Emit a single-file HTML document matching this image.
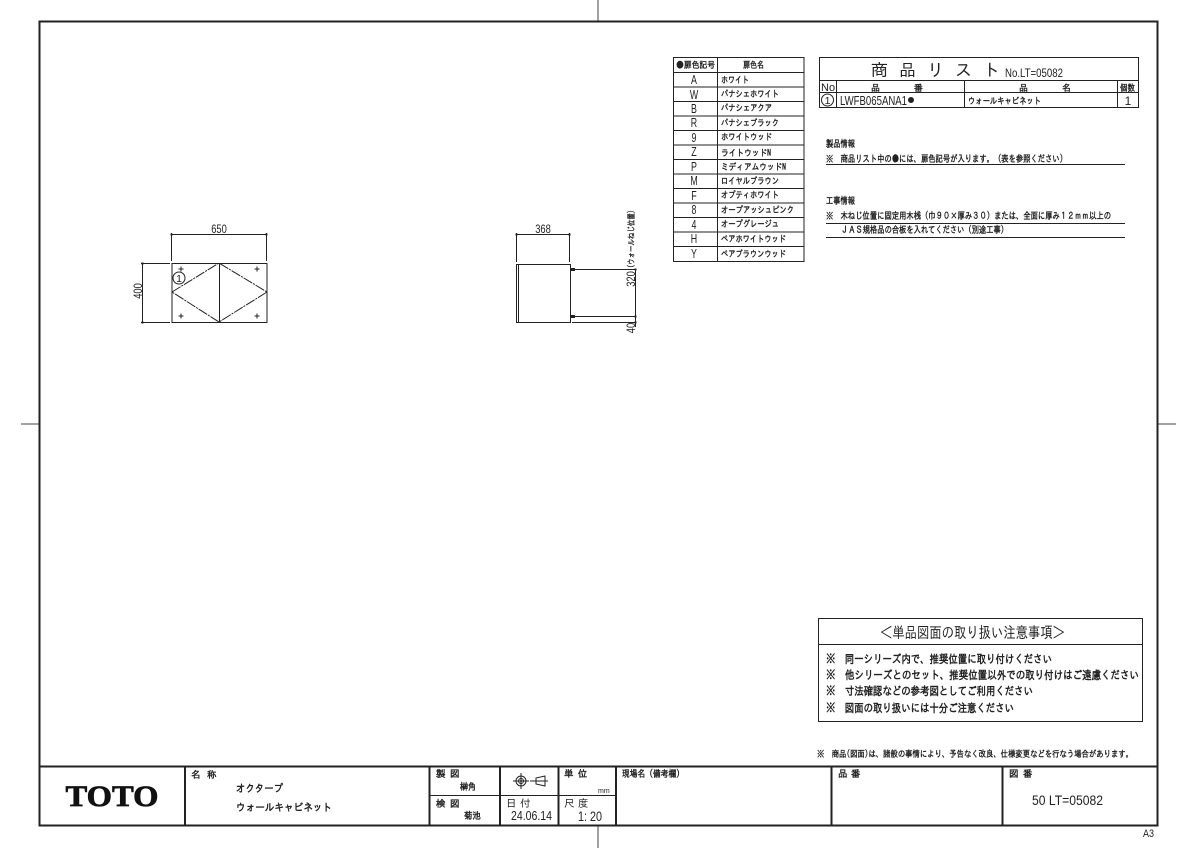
<!DOCTYPE html>
<html lang="ja"><head><meta charset="utf-8"><title>LT=05082</title>
<style>
html,body{margin:0;padding:0;background:#fff}
svg{display:block}
text{font-family:"Liberation Sans","IPAGothic","Noto Sans CJK JP",sans-serif;fill:#222}
.j{font-family:"IPAGothic","Noto Sans CJK JP",sans-serif;font-weight:bold}
.n{font-family:"IPAGothic","Noto Sans CJK JP",sans-serif;font-weight:normal}
.l{stroke:#222;stroke-width:1;fill:none}
.t{stroke:#222;stroke-width:2;fill:none}
.g{stroke:#444;stroke-width:1;fill:none}
</style></head><body>
<svg width="1200" height="848" viewBox="0 0 1200 848" xmlns="http://www.w3.org/2000/svg">
<!-- sheet -->
<path class="g" d="M598 0V21M598 826V848M21 424H39M1158 424H1176"/>
<rect class="t" x="39.500" y="21.500" width="1118" height="804"/>
<path class="t" d="M39 766.500H1158M185 766V825M429.500 766V825M500 766V825M558.500 766V825M616 766V825M831.500 766V825M1002.500 766V825"/>
<path class="l" d="M429 795.500H616"/>

<!-- color table -->
<rect class="l" x="673.500" y="57.500" width="130.500" height="204"/>
<path class="l" d="M717.500 57V261M673 72.500H804M673 87H804M673 101.500H804M673 116H804M673 130.500H804M673 145H804M673 159.500H804M673 174H804M673 188.500H804M673 203H804M673 217.500H804M673 232H804M673 246.500H804"/>
<g font-size="9">
<text x="676" y="68" class="j" textLength="39" lengthAdjust="spacingAndGlyphs">●扉色記号</text>
<text x="743" y="68" class="j" textLength="21" lengthAdjust="spacingAndGlyphs">扉色名</text>
<text x="721" y="83" class="j" textLength="28" lengthAdjust="spacingAndGlyphs">ホワイト</text>
<text x="721" y="97" class="j" textLength="58" lengthAdjust="spacingAndGlyphs">パナシェホワイト</text>
<text x="721" y="111" class="j" textLength="51" lengthAdjust="spacingAndGlyphs">パナシェアクア</text>
<text x="721" y="126" class="j" textLength="58" lengthAdjust="spacingAndGlyphs">パナシェブラック</text>
<text x="721" y="140" class="j" textLength="51" lengthAdjust="spacingAndGlyphs">ホワイトウッド</text>
<text x="721" y="156" class="j" textLength="50" lengthAdjust="spacingAndGlyphs">ライトウッドN</text>
<text x="721" y="170" class="j" textLength="65" lengthAdjust="spacingAndGlyphs">ミディアムウッドN</text>
<text x="721" y="184" class="j" textLength="58" lengthAdjust="spacingAndGlyphs">ロイヤルブラウン</text>
<text x="721" y="198" class="j" textLength="58" lengthAdjust="spacingAndGlyphs">オプティホワイト</text>
<text x="721" y="213" class="j" textLength="73" lengthAdjust="spacingAndGlyphs">オープアッシュピンク</text>
<text x="721" y="227" class="j" textLength="58" lengthAdjust="spacingAndGlyphs">オープグレージュ</text>
<text x="721" y="242" class="j" textLength="65" lengthAdjust="spacingAndGlyphs">ペアホワイトウッド</text>
<text x="721" y="257" class="j" textLength="65" lengthAdjust="spacingAndGlyphs">ペアブラウンウッド</text>
</g>
<g font-size="13" text-anchor="middle">
<text transform="translate(694 84) scale(.68 1)">A</text>
<text transform="translate(694 99) scale(.68 1)">W</text>
<text transform="translate(694 113) scale(.68 1)">B</text>
<text transform="translate(694 127) scale(.68 1)">R</text>
<text transform="translate(694 142) scale(.68 1)">9</text>
<text transform="translate(694 156) scale(.68 1)">Z</text>
<text transform="translate(694 171) scale(.68 1)">P</text>
<text transform="translate(694 185) scale(.68 1)">M</text>
<text transform="translate(694 200) scale(.68 1)">F</text>
<text transform="translate(694 214) scale(.68 1)">8</text>
<text transform="translate(694 229) scale(.68 1)">4</text>
<text transform="translate(694 243) scale(.68 1)">H</text>
<text transform="translate(694 258) scale(.68 1)">Y</text>
</g>

<!-- product list -->
<rect class="l" x="819.500" y="57.500" width="319" height="50"/>
<path class="l" d="M819 80.500H1139M819 92.500H1139M836.500 80V107M964.500 80V107M1117.500 80V107"/>
<text x="871" y="76" font-size="17" class="n">商</text>
<text x="899" y="76" font-size="17" class="n">品</text>
<text x="927" y="76" font-size="17" class="n">リ</text>
<text x="955" y="76" font-size="17" class="n">ス</text>
<text x="983" y="76" font-size="17" class="n">ト</text>
<text x="1005" y="77" font-size="12" textLength="58" lengthAdjust="spacingAndGlyphs">No.LT=05082</text>
<text x="821" y="91" font-size="11">No</text>
<text x="871" y="91" font-size="9" class="j">品</text><text x="914" y="91" font-size="9" class="j">番</text>
<text x="1019" y="91" font-size="9" class="j">品</text><text x="1062" y="91" font-size="9" class="j">名</text>
<text x="1120" y="91" font-size="9" class="j" textLength="15" lengthAdjust="spacingAndGlyphs">個数</text>
<circle class="l" cx="827.500" cy="100" r="6"/><text x="827.500" y="104" font-size="10.500" text-anchor="middle">1</text>
<text x="840" y="105" font-size="13" textLength="67" lengthAdjust="spacingAndGlyphs">LWFB065ANA1</text>
<circle cx="911" cy="100" r="3" fill="#222"/>
<text x="968" y="104" font-size="9" class="j" textLength="73" lengthAdjust="spacingAndGlyphs">ウォールキャビネット</text>
<text x="1128" y="105" font-size="12" text-anchor="middle">1</text>

<!-- notes -->
<g font-size="9.500">
<text x="826" y="147" class="j" textLength="29" lengthAdjust="spacingAndGlyphs">製品情報</text>
<text x="826" y="162" class="j" textLength="241" lengthAdjust="spacingAndGlyphs">※　商品リスト中の●には、扉色記号が入ります。（表を参照ください）</text>
<text x="826" y="204" class="j" textLength="29" lengthAdjust="spacingAndGlyphs">工事情報</text>
<text x="826" y="219" class="j" textLength="285" lengthAdjust="spacingAndGlyphs">※　木ねじ位置に固定用木桟（巾９０×厚み３０）または、全面に厚み１２ｍｍ以上の</text>
<text x="841" y="233" class="j" textLength="167" lengthAdjust="spacingAndGlyphs">ＪＡＳ規格品の合板を入れてください（別途工事）</text>
</g>
<path class="l" d="M826 164.500H1125M826 223.500H1125M826 237.500H1125"/>

<!-- front view -->
<rect class="l" x="172" y="263.500" width="95" height="59"/>
<path class="l" d="M172 292L219 263L267 292L219 322Z" stroke-dasharray="10 1 2 1"/>
<path class="l" d="M219.500 263V322"/>
<path class="l" d="M171.500 234.500H267M171.500 233V261M266.500 233V261M142.500 263V322M141 263.500H170M141 322.500H170"/>
<path d="M170.500 233.500h2v2h-2zM265.500 233.500h2v2h-2zM141.500 262.500h2v2h-2zM141.500 321.500h2v2h-2z" fill="#222"/>
<path class="l" d="M178.500 269H183.500M181 266.500V271.500M254.500 269H259.500M257 266.500V271.500M178.500 316H183.500M181 313.500V318.500M254.500 316H259.500M257 313.500V318.500"/>
<circle class="l" cx="179" cy="278" r="6" style="fill:#fff"/><text x="179" y="282" font-size="10.500" text-anchor="middle">1</text>
<text transform="translate(219 233) scale(.78 1)" font-size="12" text-anchor="middle">650</text>
<text transform="translate(142 291) rotate(-90) scale(.78 1)" font-size="12" text-anchor="middle">400</text>

<!-- side view -->
<rect class="l" x="516.500" y="264.500" width="54" height="58"/>
<path class="l" d="M518.500 264V322M516 234.500H570M516.500 233V262M569.500 233V262"/>
<path class="l" d="M570 269.500H635M570 316.500H635M572 322.500H635M635.500 269V327"/>
<path d="M570 268H575V271H570ZM570 315H575V318H570ZM515.500 233.500h2v2h-2zM568.500 233.500h2v2h-2zM634.500 268.500h2v2h-2zM634.500 315.500h2v2h-2zM634.500 321.500h2v2h-2z" fill="#222"/>
<text transform="translate(543 233) scale(.78 1)" font-size="12" text-anchor="middle">368</text>
<text transform="translate(635 279) rotate(-90) scale(.78 1)" font-size="12" text-anchor="middle">320</text>
<text transform="translate(635 328) rotate(-90) scale(.78 1)" font-size="12" text-anchor="middle">40</text>
<text transform="translate(634 268) rotate(-90)" font-size="8" class="j" textLength="58" lengthAdjust="spacingAndGlyphs">(ウォールねじ位置)</text>

<!-- caution box -->
<rect class="l" x="818.500" y="618.500" width="324" height="103"/>
<path class="l" d="M818 644.500H1142"/>
<text x="880" y="638" font-size="15.500" class="n" textLength="185" lengthAdjust="spacingAndGlyphs">＜単品図面の取り扱い注意事項＞</text>
<g font-size="11.500">
<text x="826" y="663" class="j" textLength="226" lengthAdjust="spacingAndGlyphs">※　同一シリーズ内で、推奨位置に取り付けください</text>
<text x="826" y="679" class="j" textLength="313" lengthAdjust="spacingAndGlyphs">※　他シリーズとのセット、推奨位置以外での取り付けはご遠慮ください</text>
<text x="826" y="695" class="j" textLength="207" lengthAdjust="spacingAndGlyphs">※　寸法確認などの参考図としてご利用ください</text>
<text x="826" y="712" class="j" textLength="188" lengthAdjust="spacingAndGlyphs">※　図面の取り扱いには十分ご注意ください</text>
</g>
<text x="817" y="757" font-size="9" class="j" textLength="316" lengthAdjust="spacingAndGlyphs">※　商品(図面)は、諸般の事情により、予告なく改良、仕様変更などを行なう場合があります。</text>

<!-- title block -->
<text x="112" y="806" font-size="30" font-weight="bold" text-anchor="middle" textLength="93" lengthAdjust="spacingAndGlyphs" style="font-family:'Liberation Serif',serif;fill:#111;stroke:#111;stroke-width:.7">TOTO</text>
<g font-size="9.500">
<text x="191" y="778" class="j">名</text><text x="207" y="778" class="j">称</text>
<text x="236" y="792" class="j" font-size="10.500" textLength="47" lengthAdjust="spacingAndGlyphs">オクタープ</text>
<text x="236" y="811" class="j" font-size="10.500" textLength="96" lengthAdjust="spacingAndGlyphs">ウォールキャビネット</text>
<text x="436" y="777" class="j">製</text><text x="450" y="777" class="j">図</text>
<text x="460" y="790" class="j" textLength="16" lengthAdjust="spacingAndGlyphs">榊角</text>
<text x="436" y="807" class="j">検</text><text x="450" y="807" class="j">図</text>
<text x="464" y="819" class="j" textLength="17" lengthAdjust="spacingAndGlyphs">菊池</text>
<text x="506" y="807" class="n" font-size="10.500">日</text><text x="520" y="807" class="n" font-size="10.500">付</text>
<text x="564" y="777" class="j">単</text><text x="578" y="777" class="j">位</text>
<text x="564" y="807" class="n" font-size="10.500">尺</text><text x="578" y="807" class="n" font-size="10.500">度</text>
<text x="622" y="777" class="j" textLength="62" lengthAdjust="spacingAndGlyphs">現場名（備考欄）</text>
<text x="838" y="777" class="j">品</text><text x="851" y="777" class="j">番</text>
<text x="1009" y="777" class="j">図</text><text x="1023" y="777" class="j">番</text>
</g>
<text x="598" y="793" font-size="7">mm</text>
<text x="511" y="820" font-size="13" textLength="41" lengthAdjust="spacingAndGlyphs">24.06.14</text>
<text x="578" y="821" font-size="14" textLength="24" lengthAdjust="spacingAndGlyphs">1: 20</text>
<text x="1032" y="805" font-size="13.500" textLength="71" lengthAdjust="spacingAndGlyphs">50 LT=05082</text>
<text x="1143" y="837" font-size="11" textLength="11" lengthAdjust="spacingAndGlyphs">A3</text>
<!-- third-angle symbol -->
<circle class="l" cx="521" cy="781" r="5"/><circle class="l" cx="521" cy="781" r="2.500"/><circle cx="521" cy="781" r="1" fill="#222"/>
<path class="l" d="M513 781H529M521 773V789M530 781H536M536 778V784L545 786V776ZM534 781H548"/>
</svg>
</body></html>
